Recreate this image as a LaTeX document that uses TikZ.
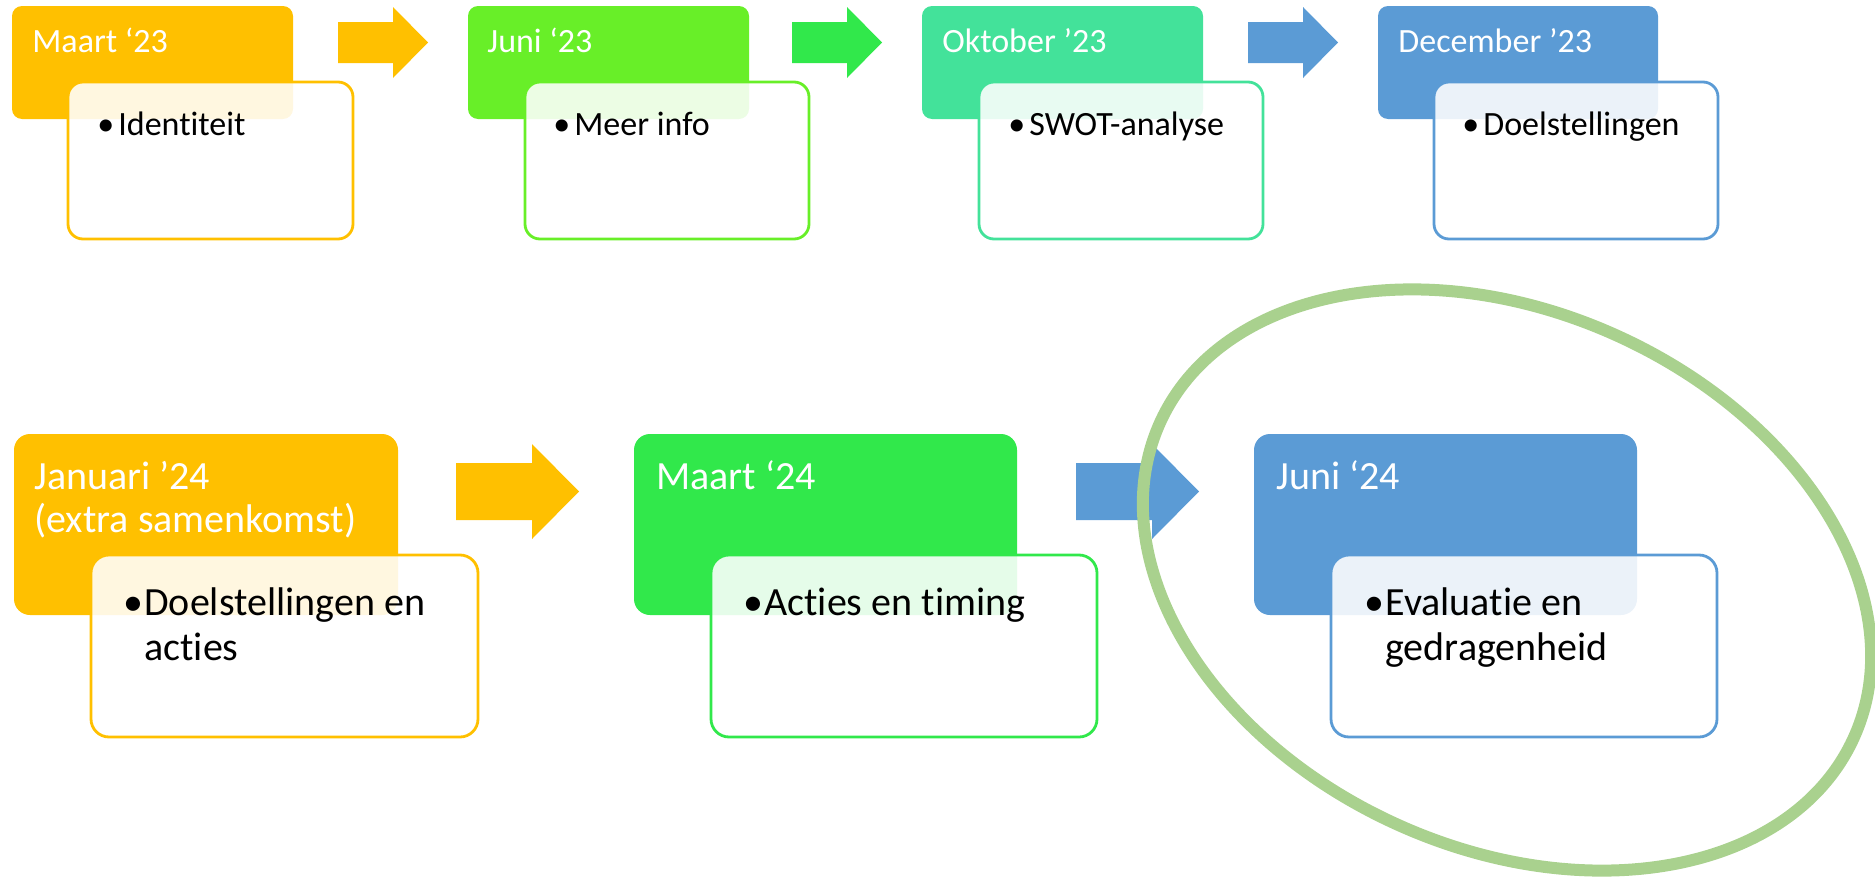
\documentclass[tikz,border=0pt]{standalone}
\usepackage{fontspec}
\setmainfont{Carlito}[Ligatures={NoCommon,NoContextual}]
\definecolor{cOrange}{HTML}{FFC000}
\definecolor{cLime}{HTML}{68EF28}
\definecolor{cGreen}{HTML}{31E84B}
\definecolor{cTeal}{HTML}{43E29A}
\definecolor{cBlue}{HTML}{5B9BD5}
\definecolor{cRing}{HTML}{A9D18E}
% small block arrow (row 1): #1 = left x, #2 = colour
\newcommand{\blkarrowA}[2]{\fill[#2] (#1,22) -- ++(55,0) -- ++(0,-15) -- ++(35,35.5) -- ++(-35,35.5) -- ++(0,-15) -- ++(-55,0) -- cycle;}
% large block arrow (row 2)
\newcommand{\blkarrowB}[2]{\fill[#2] (#1,463) -- ++(76,0) -- ++(0,-19) -- ++(47,47.5) -- ++(-47,47.5) -- ++(0,-19) -- ++(-76,0) -- cycle;}
\begin{document}
\begin{tikzpicture}[x=0.5pt,y=-0.5pt,
  hdrA/.style={fill=#1, rounded corners=5pt},
  bodyA/.style={draw=#1, line width=1.4pt, fill=white, fill opacity=0.88, rounded corners=7.5pt},
  hdrB/.style={fill=#1, rounded corners=8pt},
  bodyB/.style={draw=#1, line width=1.4pt, fill=white, fill opacity=0.88, rounded corners=9pt},
  htA/.style={anchor=base west, inner sep=0pt, text=white, font=\fontsize{17}{20}\selectfont},
  btA/.style={anchor=base west, inner sep=0pt, text=black, font=\fontsize{17}{20}\selectfont},
  htB/.style={anchor=base west, inner sep=0pt, text=white, align=left, font=\fontsize{20}{21.5}\selectfont},
  btB/.style={anchor=base west, inner sep=0pt, text=black, align=left, font=\fontsize{20}{22.5}\selectfont},
  ring/.style={draw=cRing, line width=6pt}]
\useasboundingbox (0,0) rectangle (1875,878);

% ---------- row 1 ----------
\fill[hdrA=cOrange] (12,6) rectangle (293,119);
\draw[bodyA=cOrange] (68,82) rectangle (353,239);
\node[htA] (h1) at (32,52) {Maart ‘23};
\node[btA] (b1) at (97,135) {\makebox[10.5pt][l]{•}Identiteit};
\blkarrowA{338}{cOrange}

\fill[hdrA=cLime] (468,6) rectangle (749,119);
\draw[bodyA=cLime] (525,82) rectangle (809,239);
\node[htA] (h2) at (487,52) {Juni ‘23};
\node[btA] (b2) at (553,135) {\makebox[10.5pt][l]{•}Meer info};
\blkarrowA{792}{cGreen}

\fill[hdrA=cTeal] (922,6) rectangle (1203,119);
\draw[bodyA=cTeal] (979,82) rectangle (1263,239);
\node[htA] (h3) at (942,52) {Oktober ’23};
\node[btA] (b3) at (1008,135) {\makebox[10.5pt][l]{•}SWOT-analyse};
\blkarrowA{1248}{cBlue}

\fill[hdrA=cBlue] (1378,6) rectangle (1658,119);
\draw[bodyA=cBlue] (1434,82) rectangle (1718,239);
\node[htA] (h4) at (1398,52) {December ’23};
\node[btA] (b4) at (1462,135) {\makebox[10.5pt][l]{•}Doelstellingen};

% ---------- row 2 (multi-line nodes are placed at the baseline of their last line) ----------
\fill[hdrB=cOrange] (14,434) rectangle (398,615);
\draw[bodyB=cOrange] (91,555) rectangle (478,737);
\node[htB] (h5) at (34,532) {Januari ’24\\(extra samenkomst)};
\node[btB] (b5) at (123,660) {\makebox[10.5pt][l]{•}Doelstellingen en\\\hspace*{10.5pt}acties};
\blkarrowB{456}{cOrange}

\fill[hdrB=cGreen] (634,434) rectangle (1017,615);
\draw[bodyB=cGreen] (711,555) rectangle (1097,737);
\node[htB] (h6) at (656,489) {Maart ‘24};
\node[btB] (b6) at (743,615) {\makebox[10.5pt][l]{•}Acties en timing};
\blkarrowB{1076}{cBlue}

\fill[hdrB=cBlue] (1254,434) rectangle (1637,615);
\draw[bodyB=cBlue] (1331,555) rectangle (1717,737);
\node[htB] (h7) at (1276,489) {Juni ‘24};
\node[btB] (b7) at (1364,660) {\makebox[10.5pt][l]{•}Evaluatie en\\\hspace*{10.5pt}gedragenheid};

% ---------- highlight ring ----------
\draw[ring, rotate around={-24.5:(1507,580)}] (1507,580) ellipse [x radius=190.5pt, y radius=134pt];
\end{tikzpicture}
\end{document}
